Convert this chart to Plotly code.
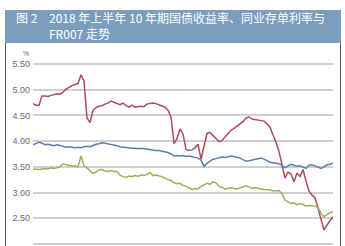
import plotly.graph_objects as go

W, H = 345, 246

day_idx = list(range(101))

cd_rate = [4.73, 4.70, 4.70, 4.88, 4.88, 4.87, 4.89, 4.90, 4.92, 4.91,
           4.95, 5.01, 5.05, 5.08, 5.10, 5.12, 5.29, 5.17, 4.45, 4.36,
           4.60, 4.65, 4.68, 4.69, 4.72, 4.74, 4.78, 4.76, 4.73, 4.71,
           4.74, 4.69, 4.66, 4.70, 4.66, 4.67, 4.68, 4.67, 4.72, 4.73,
           4.74, 4.73, 4.71, 4.69, 4.66, 4.60, 4.47, 3.95, 4.05, 4.24,
           4.14, 3.84, 3.82, 3.83, 3.87, 3.94, 3.65, 3.90, 4.15, 4.17,
           4.10, 4.05, 3.99, 4.01, 4.08, 4.15, 4.21, 4.25, 4.29, 4.34,
           4.38, 4.45, 4.47, 4.43, 4.42, 4.41, 4.41, 4.39, 4.34, 4.27,
           4.12, 3.98, 3.80, 3.55, 3.28, 3.40, 3.36, 3.21, 3.38, 3.31,
           3.45, 3.22, 3.03, 2.95, 2.90, 2.70, 2.48, 2.27, 2.37, 2.45,
           2.53]

bond_10y = [3.93, 3.95, 3.98, 3.96, 3.93, 3.94, 3.92, 3.91, 3.93, 3.92,
            3.90, 3.88, 3.89, 3.88, 3.87, 3.88, 3.87, 3.89, 3.90, 3.89,
            3.92, 3.94, 3.95, 3.97, 3.96, 3.95, 3.94, 3.93, 3.91, 3.89,
            3.88, 3.87, 3.86, 3.86, 3.86, 3.85, 3.86, 3.85, 3.84, 3.84,
            3.83, 3.82, 3.82, 3.81, 3.80, 3.78, 3.75, 3.71, 3.72, 3.71,
            3.72, 3.70, 3.71, 3.70, 3.69, 3.67, 3.63, 3.51, 3.57, 3.61,
            3.65, 3.66, 3.68, 3.69, 3.68, 3.70, 3.71, 3.70, 3.69, 3.67,
            3.64, 3.61, 3.62, 3.63, 3.64, 3.66, 3.67, 3.65, 3.62, 3.59,
            3.58, 3.57, 3.56, 3.53, 3.48, 3.52, 3.55, 3.53, 3.51, 3.52,
            3.49, 3.47, 3.53, 3.54, 3.52, 3.49, 3.47, 3.50, 3.54, 3.55,
            3.57]

fr007 = [3.46, 3.45, 3.45, 3.46, 3.47, 3.46, 3.48, 3.47, 3.49, 3.50,
         3.56, 3.54, 3.53, 3.51, 3.52, 3.50, 3.71, 3.52, 3.48, 3.42,
         3.37, 3.40, 3.44, 3.45, 3.42, 3.41, 3.43, 3.41, 3.41, 3.34,
         3.31, 3.30, 3.32, 3.31, 3.33, 3.32, 3.34, 3.33, 3.35, 3.39,
         3.33, 3.34, 3.33, 3.31, 3.28, 3.26, 3.23, 3.19, 3.17, 3.18,
         3.14, 3.12, 3.09, 3.06, 3.08, 3.07, 3.12, 3.15, 3.18, 3.16,
         3.21, 3.19, 3.12, 3.10, 3.07, 3.08, 3.10, 3.08, 3.07, 3.09,
         3.11, 3.13, 3.11, 3.08, 3.10, 3.08, 3.07, 3.06, 3.06, 3.05,
         3.03, 3.04, 3.04, 2.98, 2.86, 2.82, 2.79, 2.80, 2.76, 2.79,
         2.77, 2.74, 2.75, 2.74, 2.74, 2.71, 2.60, 2.53, 2.57, 2.61,
         2.62]

y_ticks = [2.0, 2.5, 3.0, 3.5, 4.0, 4.5, 5.0, 5.5]
y_tick_text = ["2.00", "2.50", "3.00", "3.50", "4.00", "4.50", "5.00", "5.50"]

title_num = "图 2"
title_line1 = "2018 年上半年 10 年期国债收益率、同业存单利率与"
title_line2 = "FR007 走势"
unit_label = "%"

fig = go.Figure()
fig.add_trace(go.Scatter(x=day_idx, y=cd_rate, mode="lines", name="同业存单利率",
                         line=dict(color="#b04a5c", width=1.5)))
fig.add_trace(go.Scatter(x=day_idx, y=bond_10y, mode="lines", name="10年期国债收益率",
                         line=dict(color="#5a7fae", width=1.5)))
fig.add_trace(go.Scatter(x=day_idx, y=fr007, mode="lines", name="FR007",
                         line=dict(color="#9fae5e", width=1.5)))

def px_x(p):
    return p / W

def px_y(p):
    return 1 - p / H

fig.update_layout(
    width=W, height=H,
    margin=dict(l=0, r=0, t=0, b=0),
    paper_bgcolor="white", plot_bgcolor="white",
    showlegend=False,
    xaxis=dict(domain=[px_x(33), px_x(333)], range=[0, 100], visible=False, fixedrange=True),
    yaxis=dict(domain=[0, px_y(60)], range=[1.961, 5.578],
               tickvals=y_ticks, ticktext=y_tick_text,
               showgrid=True, gridcolor="#cfcfcf", gridwidth=1.6,
               zeroline=False, showline=False, ticks="",
               tickfont=dict(family="Liberation Sans Narrow, Liberation Sans, Arial", size=9, color="#6a6a6a"),
               ticklabelstandoff=2),
    shapes=[
        dict(type="rect", xref="paper", yref="paper",
             x0=px_x(5), x1=px_x(341), y0=px_y(43), y1=px_y(10),
             fillcolor="#7b9dbe", line=dict(width=0), layer="below"),
        dict(type="line", xref="paper", yref="paper",
             x0=px_x(5.5), x1=px_x(5.5), y0=px_y(43), y1=px_y(246),
             line=dict(color="#555555", width=1)),
        dict(type="line", xref="paper", yref="paper",
             x0=px_x(340.5), x1=px_x(340.5), y0=px_y(43), y1=px_y(246),
             line=dict(color="#555555", width=1)),
    ],
    annotations=[
        dict(text=title_num, xref="paper", yref="paper", x=px_x(14), y=px_y(18),
             xanchor="left", yanchor="middle", showarrow=False,
             font=dict(family="Noto Sans CJK SC, Liberation Sans", size=12, color="white")),
        dict(text=title_line1, xref="paper", yref="paper", x=px_x(47), y=px_y(18),
             xanchor="left", yanchor="middle", showarrow=False,
             font=dict(family="Noto Sans CJK SC, Liberation Sans", size=12, color="white")),
        dict(text=title_line2, xref="paper", yref="paper", x=px_x(47), y=px_y(34),
             xanchor="left", yanchor="middle", showarrow=False,
             font=dict(family="Noto Sans CJK SC, Liberation Sans", size=12, color="white")),
        dict(text=unit_label, xref="paper", yref="paper", x=px_x(26), y=px_y(53),
             xanchor="center", yanchor="middle", showarrow=False,
             font=dict(family="Liberation Sans Narrow, Liberation Sans", size=7, color="#6a6a6a")),
    ],
)

fig.write_html("out.html")
